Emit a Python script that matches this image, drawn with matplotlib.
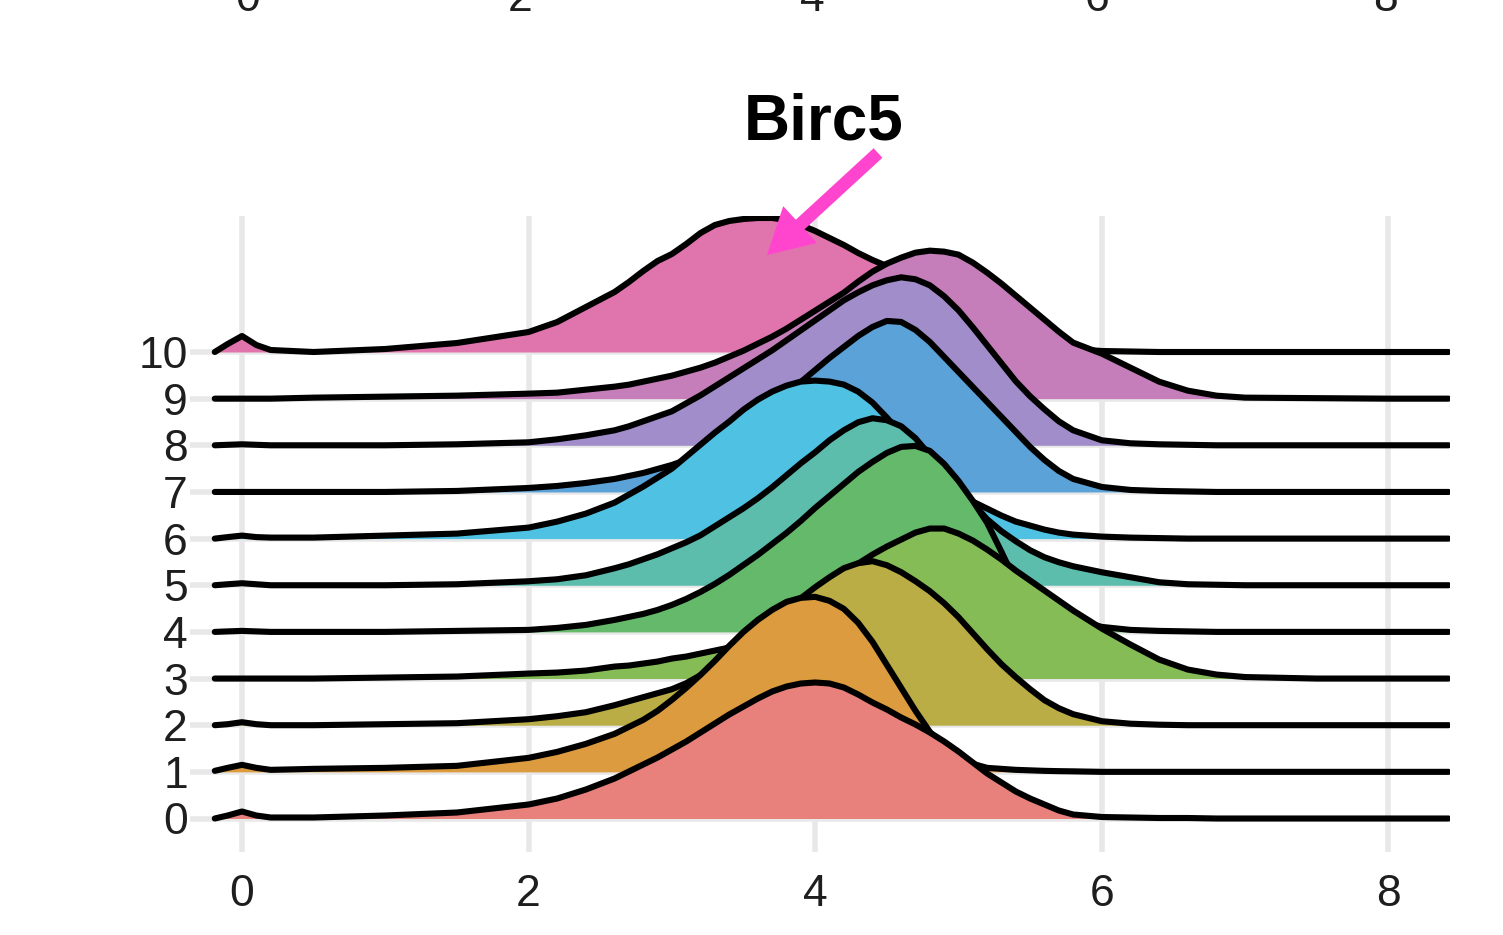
import matplotlib
matplotlib.use("Agg")
import matplotlib.pyplot as plt
import numpy as np
from matplotlib.patches import FancyArrow

# ======================
# |       DATA         |
# ======================
title = "Birc5"
groups = ["0", "1", "2", "3", "4", "5", "6", "7", "8", "9", "10"]

# expression grid (x) shared by all ridges
x_grid = [-0.19, -0.1, 0.0, 0.1, 0.2, 0.5, 1.0, 1.5, 2.0, 2.2, 2.4,
          2.6, 2.7, 2.8, 2.9, 3.0, 3.1, 3.2, 3.3, 3.4, 3.5,
          3.6, 3.7, 3.8, 3.9, 4.0, 4.1, 4.2, 4.3, 4.4, 4.5,
          4.6, 4.7, 4.8, 4.9, 5.0, 5.1, 5.2, 5.3, 5.4, 5.5,
          5.6, 5.7, 5.8,
          6.0, 6.2, 6.4, 6.6, 6.8, 7.0, 7.5, 8.0, 8.42]

# ridge heights (arbitrary density units)
dens_0 = [0, 3, 7, 3, 1, 1, 3, 6, 14, 20, 29,
          40, 47, 54, 61, 69, 77, 86, 95, 104, 112,
          120, 127, 132, 135, 136, 135, 131, 124, 116, 109,
          101, 94, 86, 77, 67, 56, 45, 36, 27, 20,
          14, 8, 4,
          1.5, 1, 0.5, 0.5, 0, 0, 0, 0, 0]
dens_1 = [1, 4, 7, 4, 2, 3, 4, 6, 14, 20, 28,
          38, 45, 52, 61, 72, 84, 97, 111, 126, 140,
          152, 162, 170, 174, 175, 171, 163, 149, 130, 107,
          84, 61, 40, 25, 14, 8, 4, 3, 2, 1.5,
          1, 0.7, 0.5,
          0, 0, 0, 0, 0, 0, 0, 0, 0]
dens_2 = [0, 1, 3, 1, 0, 0, 1, 2, 6, 9, 13,
          20, 24, 28, 32, 36, 42, 50, 60, 70, 81,
          93, 105, 116, 127, 138, 148, 157, 162, 164, 160,
          153, 144, 134, 122, 108, 92, 76, 61, 48, 36,
          25, 17, 11,
          4, 1.5, 0.5, 0, 0, 0, 0, 0, 0]
dens_3 = [0, 0, 0, 0, 0, 0, 1, 2, 5, 6, 8,
          12, 13, 15, 17, 20, 22, 25, 28, 31, 40,
          50, 58, 66, 76, 86, 95, 105, 115, 124, 132,
          139, 146, 150, 150, 145, 138, 129, 119, 108, 98,
          88, 78, 68,
          50, 34, 19, 9, 4, 1.5, 0, 0, 0]
dens_4 = [0, 0.5, 1, 0.5, 0, 0, 0, 1, 2, 4, 7,
          12, 15, 18, 22, 27, 33, 40, 48, 57, 67,
          77, 88, 99, 111, 124, 136, 148, 160, 170, 179,
          185, 186, 181, 168, 151, 131, 109, 80, 50, 37,
          28, 20, 13,
          5, 2, 1, 0.5, 0, 0, 0, 0, 0]
dens_5 = [0, 1, 2, 1, 0, 0, 0, 1, 4, 6, 10,
          17, 21, 26, 31, 37, 43, 50, 59, 68, 77,
          87, 98, 110, 122, 133, 145, 155, 163, 167, 165,
          159, 147, 130, 114, 98, 82, 66, 54, 44, 35,
          28, 23, 19,
          13, 8, 3, 1, 0.5, 0, 0, 0, 0]
dens_6 = [0, 1.5, 3, 1.5, 1, 1, 3, 5, 11, 17, 25,
          36, 44, 52, 61, 70, 82, 94, 106, 117, 129,
          139, 147, 153, 157, 158, 157, 154, 147, 136, 121,
          105, 88, 72, 58, 46, 37, 30, 23, 17, 13,
          9, 6, 4,
          2, 1, 0.5, 0, 0, 0, 0, 0, 0]
dens_7 = [0, 0, 0, 0, 0, 0, 0, 1, 4, 6, 9,
          13, 16, 19, 23, 27, 32, 38, 46, 55, 65,
          75, 86, 98, 110, 122, 134, 145, 156, 165, 171,
          170, 162, 150, 135, 120, 105, 90, 75, 60, 45,
          32, 21, 13,
          5, 2, 1, 0.5, 0, 0, 0, 0, 0]
dens_8 = [0, 0.5, 1, 0.5, 0, 0, 0, 1, 3, 6, 10,
          15, 19, 24, 29, 34, 42, 50, 59, 68, 77,
          86, 95, 105, 115, 125, 135, 145, 153, 160, 165,
          168, 166, 160, 149, 135, 118, 100, 82, 64, 49,
          36, 24, 15,
          5, 2, 1, 0.5, 0, 0, 0, 0, 0]
dens_9 = [0, 0, 0, 0, 0, 1, 2, 3, 5, 6, 9,
          12, 14, 17, 20, 23, 27, 31, 36, 42, 48,
          55, 62, 70, 79, 88, 97, 106, 117, 127, 135,
          141, 146, 148, 147, 144, 136, 126, 115, 103, 91,
          79, 67, 56,
          45, 31, 17, 8, 3, 1, 0.5, 0, 0]
dens_10 = [0, 8, 16, 7, 2, 0, 3, 9, 20, 30, 45,
           60, 70, 81, 91, 98, 108, 119, 127, 131, 133,
           134, 134, 132, 127, 121, 114, 107, 99, 92, 86,
           80, 73, 65, 57, 48, 40, 32, 25, 18, 12,
           8, 5, 3,
           1, 0.5, 0, 0, 0, 0, 0, 0, 0]

densities = [dens_0, dens_1, dens_2, dens_3, dens_4, dens_5,
             dens_6, dens_7, dens_8, dens_9, dens_10]

fill_colors = ["#E8817B", "#DC9B3E", "#BAAD45", "#85BC55", "#65B96A", "#5CBDAD",
               "#4FC1E2", "#5BA2D9", "#A18DC9", "#C57EB9", "#E075AE"]

x_ticks = [0, 2, 4, 6, 8]

# ======================
# |     PLOTTING       |
# ======================
plt.rcParams["font.family"] = ["Liberation Sans", "DejaVu Sans"]

W, H = 1503, 935
fig = plt.figure(figsize=(W / 100, H / 100), dpi=100)

# main axes placed in pixel terms
left, right, top, bottom = 190, 1450, 216, 852
ax = fig.add_axes([left / W, 1 - bottom / H, (right - left) / W, (bottom - top) / H])

x0_px, px_per_x = 242, 143.3
ax.set_xlim((left - x0_px) / px_per_x, (right - x0_px) / px_per_x)
y0_px, px_per_row = 818.5, 46.65
ax.set_ylim(-(bottom - y0_px) / px_per_row, (y0_px - top) / px_per_row)

scale = 1 / px_per_row  # density units -> rows
grid_col = "#E8E8E8"
for xv in x_ticks:
    ax.axvline(xv, color=grid_col, lw=4, zorder=0)
for i in range(len(groups)):
    ax.axhline(i, color=grid_col, lw=4, zorder=0)

x = np.array(x_grid)
# top ridge drawn first, lower ridges in front
for i in range(len(groups) - 1, -1, -1):
    y = i + np.array(densities[i]) * scale
    z = 2 * (len(groups) - i)
    ax.fill_between(x, i, y, color=fill_colors[i], lw=0, zorder=z)
    ax.plot(x, y, color="black", lw=4.4, solid_joinstyle="round",
            solid_capstyle="round", zorder=z + 1)

ax.set_yticks(range(len(groups)))
ax.set_yticklabels(groups)
ax.set_xticks(x_ticks)
ax.set_xticklabels([str(v) for v in x_ticks])
ax.tick_params(axis="both", length=0, labelsize=32, colors="#1E1E1E")
ax.tick_params(axis="y", pad=1.5)
ax.tick_params(axis="x", pad=16)
for s in ax.spines.values():
    s.set_visible(False)

# title and arrow
fig.text(824 / W, 1 - 139 / H, title, ha="center", va="baseline",
         fontsize=46, fontweight="bold", color="black")

# cut-off tick labels of the panel above
for lab, xp in zip(x_ticks, [248, 520, 812, 1097, 1385]):
    fig.text(xp / W, 1 - 11 / H, str(lab), ha="center", va="baseline",
             fontsize=32, color="#1E1E1E")

over = fig.add_axes([0, 0, 1, 1])
over.set_xlim(0, W)
over.set_ylim(H, 0)
over.axis("off")
over.add_patch(FancyArrow(878, 153, -111, 102, width=13, head_width=50,
                          head_length=45, length_includes_head=True,
                          color="#FF45CD", lw=0))

fig.savefig("out.png", dpi=100)
